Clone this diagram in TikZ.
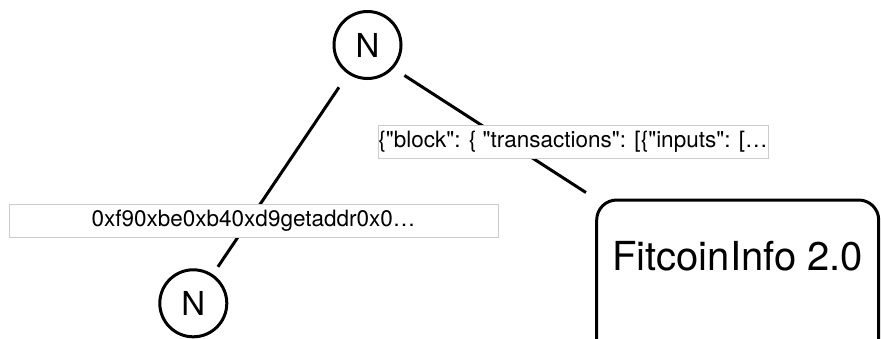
\documentclass[tikz,border=0pt]{standalone}
\usepackage{fontspec}
\setmainfont{TeX Gyre Heros}[Ligatures = TeXOff]

\begin{document}
\begin{tikzpicture}[x = 1pt, y = -1pt,
	treenode/.style = {draw, circle, line width = 3pt, minimum size = 67pt, inner sep = 0pt, font = \fontsize{33}{36}\selectfont},
	hashlabel/.style = {draw = black!20, line width = 0.8pt, fill = white, minimum height = 33pt, inner sep = 0pt, font = \fontsize{22.5}{26}\selectfont},
	infobox/.style = {draw, line width = 3pt, rounded corners = 20pt, minimum width = 282pt, minimum height = 160pt, text height = 29pt, text depth = 49pt, font = \fontsize{40}{44}\selectfont},
	edge/.style = {line width = 3pt}]

	\clip (0, 0) rectangle (881, 338);

	% Tree nodes

	\node [treenode] (root) at (367.5, 45) {N};
	\node [treenode] (leaf) at (193.3, 303.3) {N};
	\node [infobox] (info) at (737.7, 280) {FitcoinInfo 2.0};

	% Edges

	\draw [edge, shorten < = 16pt, shorten > = 9pt] (root) -- (leaf);
	\draw [edge, shorten < = 13pt, shorten > = 11pt] (root.-42) -- (info.north west);

	% Edge labels

	\node [hashlabel, minimum width = 390pt] (blocklabel) at (573, 141.5) {\{"block": \{ "transactions": [\{"inputs": [\dots};
	\node [hashlabel, minimum width = 489pt] (addrlabel) at (253.5, 220.5) {0xf90xbe0xb40xd9getaddr0x0\dots};

\end{tikzpicture}
\end{document}
